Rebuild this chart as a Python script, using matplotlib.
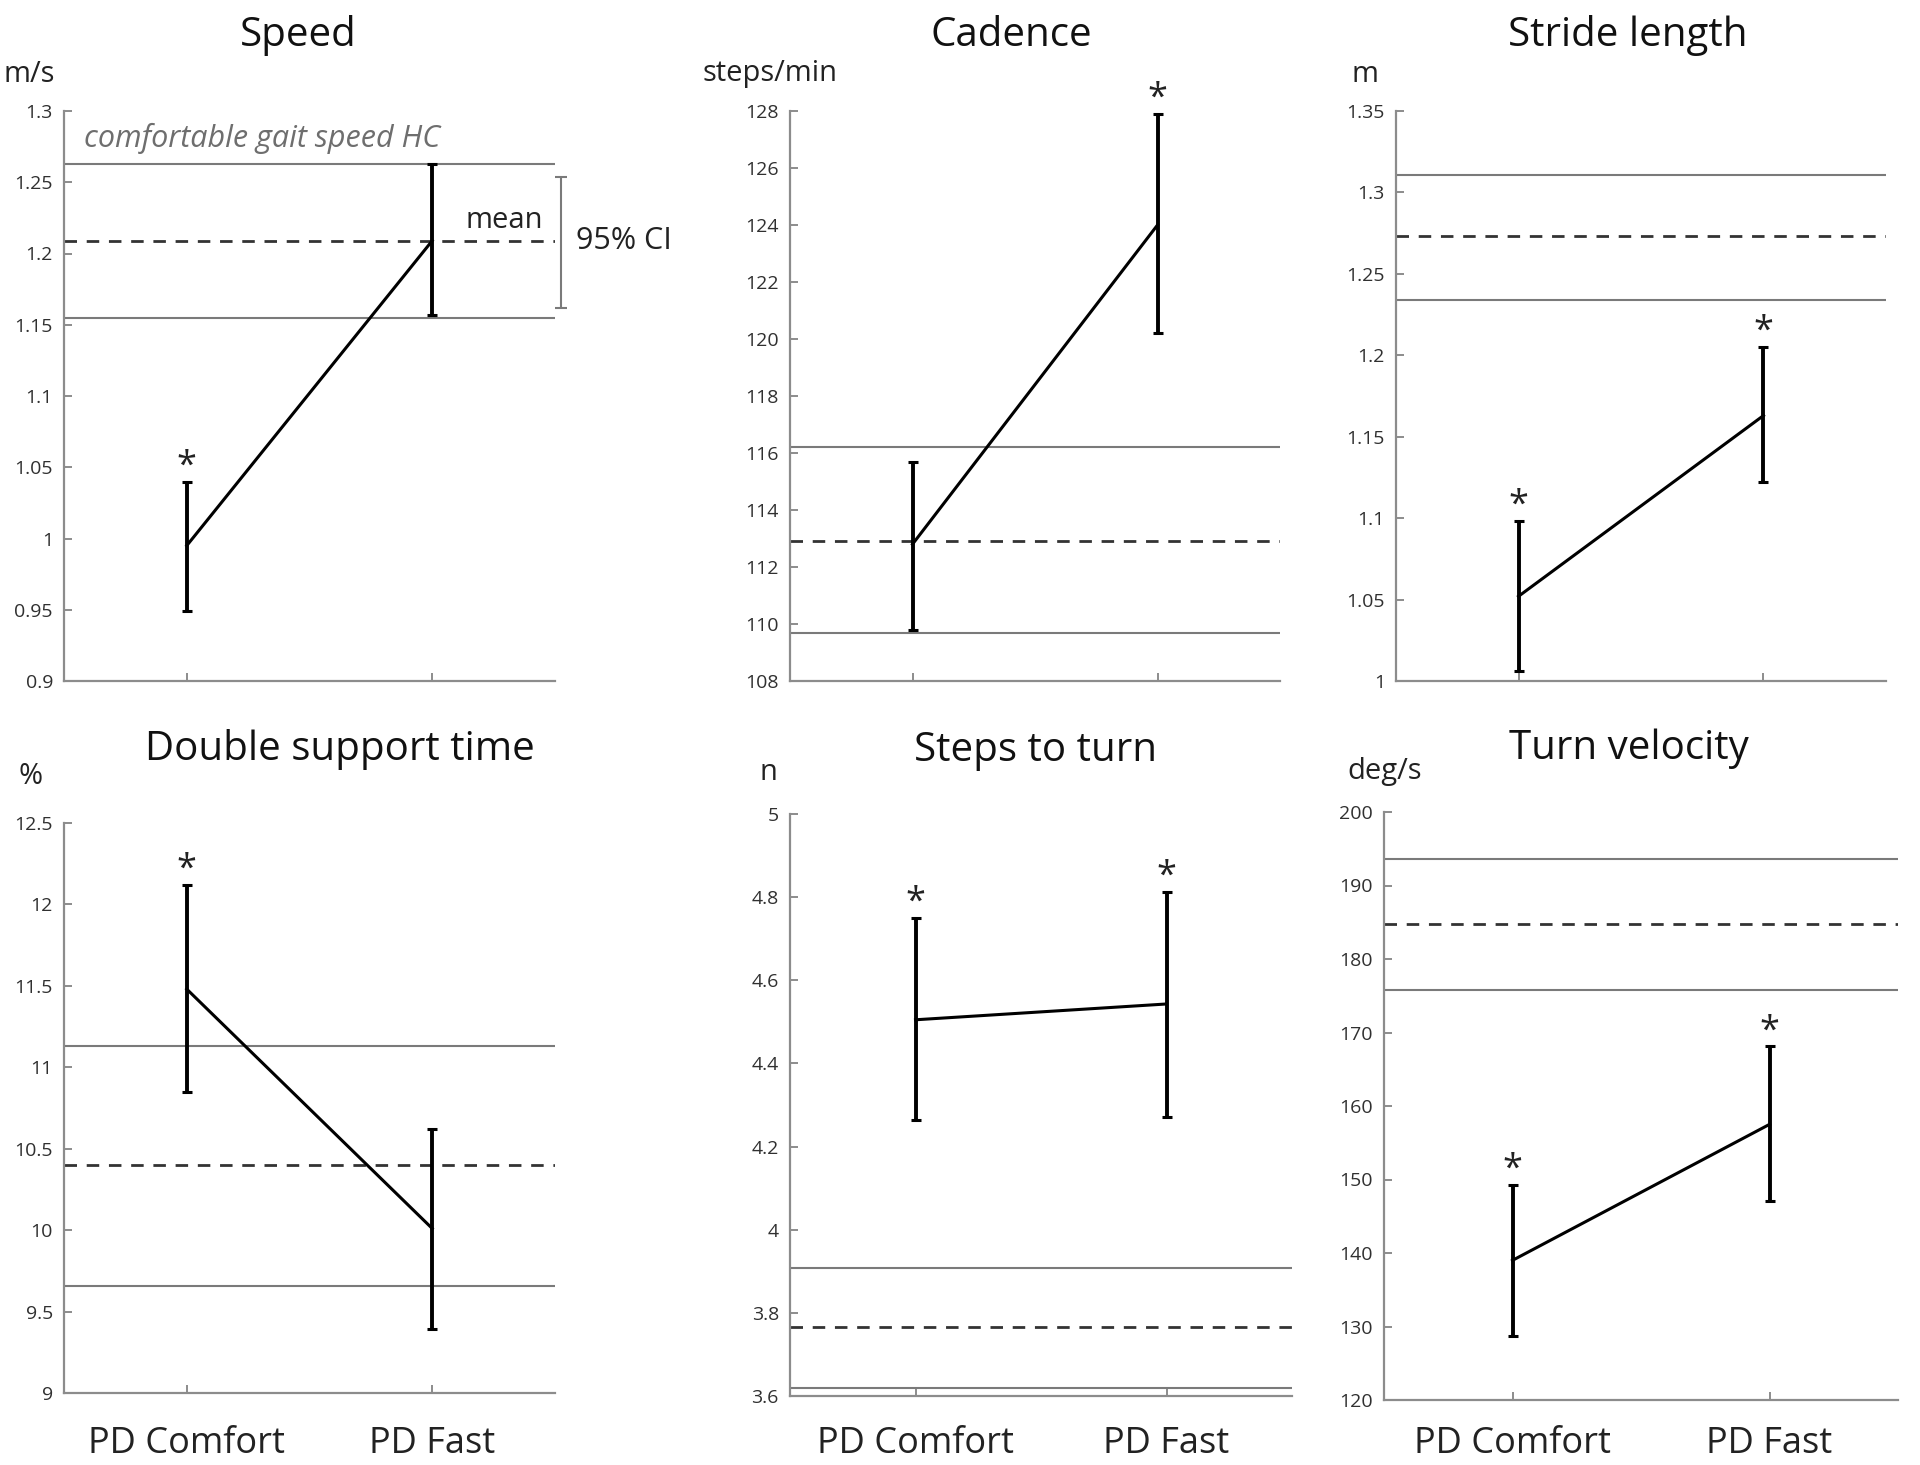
import matplotlib.pyplot as plt
import numpy as np

plt.rcParams['font.family'] = ['Open Sans', 'DejaVu Sans']

conditions = ["PD Comfort", "PD Fast"]
x_pos = [1, 2]

# mean, lower / upper 95% CI for PD groups; HC band = lower CI, mean, upper CI
speed_mean = [0.995, 1.209]
speed_lo = [0.949, 1.157]
speed_hi = [1.040, 1.263]
speed_hc = [1.155, 1.209, 1.263]
speed_star = [True, False]
speed_ticks = [0.9, 0.95, 1.0, 1.05, 1.1, 1.15, 1.2, 1.25, 1.3]

cad_mean = [112.8, 124.0]
cad_lo = [109.8, 120.2]
cad_hi = [115.7, 127.9]
cad_hc = [109.7, 112.9, 116.2]
cad_star = [False, True]
cad_ticks = [108, 110, 112, 114, 116, 118, 120, 122, 124, 126, 128]

stride_mean = [1.052, 1.163]
stride_lo = [1.006, 1.122]
stride_hi = [1.098, 1.205]
stride_hc = [1.234, 1.273, 1.311]
stride_star = [True, True]
stride_ticks = [1.0, 1.05, 1.1, 1.15, 1.2, 1.25, 1.3, 1.35]

dst_mean = [11.48, 10.01]
dst_lo = [10.85, 9.39]
dst_hi = [12.12, 10.62]
dst_hc = [9.66, 10.40, 11.13]
dst_star = [True, False]
dst_ticks = [9, 9.5, 10, 10.5, 11, 11.5, 12, 12.5]

stt_mean = [4.505, 4.543]
stt_lo = [4.265, 4.272]
stt_hi = [4.750, 4.812]
stt_hc = [3.62, 3.765, 3.908]
stt_star = [True, True]
stt_ticks = [3.6, 3.8, 4.0, 4.2, 4.4, 4.6, 4.8, 5.0]

tv_mean = [139.0, 157.5]
tv_lo = [128.7, 147.1]
tv_hi = [149.3, 168.1]
tv_hc = [175.8, 184.8, 193.6]
tv_star = [True, True]
tv_ticks = [120, 130, 140, 150, 160, 170, 180, 190, 200]

titles = ["Speed", "Cadence", "Stride length",
          "Double support time", "Steps to turn", "Turn velocity"]
units = ["m/s", "steps/min", "m", "%", "n", "deg/s"]

# annotation of the speed panel
ci_bracket = [1.162, 1.2535]

panels = [
    (speed_mean, speed_lo, speed_hi, speed_hc, speed_star, speed_ticks),
    (cad_mean, cad_lo, cad_hi, cad_hc, cad_star, cad_ticks),
    (stride_mean, stride_lo, stride_hi, stride_hc, stride_star, stride_ticks),
    (dst_mean, dst_lo, dst_hi, dst_hc, dst_star, dst_ticks),
    (stt_mean, stt_lo, stt_hi, stt_hc, stt_star, stt_ticks),
    (tv_mean, tv_lo, tv_hi, tv_hc, tv_star, tv_ticks),
]

W, H = 1920, 1465
# axes boxes in pixels: left, top, right, bottom
boxes = [
    (64, 111, 555, 681),
    (790, 111, 1280, 681),
    (1396, 111, 1886, 681),
    (64, 823, 555, 1393),
    (790, 814, 1292, 1396),
    (1384, 812, 1898, 1400),
]
title_pos = [(298, 36), (1011, 36), (1628, 36), (340, 749), (1035, 751), (1629, 749)]
unit_pos = [(4, 74), (702, 74), (1351, 74), (18, 777), (759, 773), (1347, 771)]

SPINE = '#8c8c8c'
TICKC = '#303030'

fig = plt.figure(figsize=(W / 100, H / 100), dpi=100)

def fmt(v):
    return f"{v:g}"

for i, (mean, lo, hi, hc, star, ticks) in enumerate(panels):
    l, t, r, b = boxes[i]
    ax = fig.add_axes([l / W, 1 - b / H, (r - l) / W, (b - t) / H])

    ax.axhline(hc[0], color='#7a7a7a', lw=1.5)
    ax.axhline(hc[2], color='#7a7a7a', lw=1.5)
    ax.axhline(hc[1], color='#333333', lw=2.0, dashes=(4.5, 3.5))

    mean = np.array(mean)
    yerr = [mean - np.array(lo), np.array(hi) - mean]
    ax.errorbar(x_pos, mean, yerr=yerr, color='black', lw=2.2,
                elinewidth=2.8, capsize=3.5, capthick=2.2)

    for x, h, s in zip(x_pos, hi, star):
        if s:
            ax.annotate('*', (x, h), xytext=(0, -2), textcoords='offset points',
                        ha='center', va='bottom', fontsize=26, color='#222222')

    ax.set_xlim(0.5, 2.5)
    ax.set_ylim(ticks[0], ticks[-1])
    ax.set_yticks(ticks)
    ax.set_yticklabels([fmt(v) for v in ticks])
    ax.set_xticks(x_pos)
    if i >= 3:
        ax.set_xticklabels(conditions, fontsize=26, color='#222222')
    else:
        ax.set_xticklabels([])

    for side in ['top', 'right']:
        ax.spines[side].set_visible(False)
    for side in ['left', 'bottom']:
        ax.spines[side].set_color(SPINE)
        ax.spines[side].set_linewidth(1.6)
    ax.tick_params(axis='both', direction='in', length=6, width=1.4,
                   color=SPINE)
    ax.tick_params(axis='y', labelsize=14, labelcolor=TICKC, pad=8)
    # keep the category labels of the bottom row on one line
    ax.tick_params(axis='x', pad=24 - (b - 1393) / 1.39)

    fig.text(title_pos[i][0] / W, 1 - title_pos[i][1] / H, titles[i],
             ha='center', va='center', fontsize=29, color='#111111')
    fig.text(unit_pos[i][0] / W, 1 - unit_pos[i][1] / H, units[i],
             ha='left', va='center', fontsize=21, color='#222222')

    if i == 0:
        ax.text(0.58, 1.281, "comfortable gait speed HC", style='italic',
                fontsize=22, color='#6e6e6e', ha='left', va='center')
        ax.text(2.45, hc[1] + 0.004, "mean", fontsize=21, color='#222222',
                ha='right', va='bottom')
        mid = (ci_bracket[0] + ci_bracket[1]) / 2
        half = (ci_bracket[1] - ci_bracket[0]) / 2
        eb = ax.errorbar([2.525], [mid], yerr=[[half], [half]], fmt='none',
                         ecolor='#7a7a7a', elinewidth=1.5, capsize=4, capthick=1.5)
        for art in eb.lines[1] + eb.lines[2]:
            art.set_clip_on(False)
        ax.text(2.585, hc[1], "95% CI", fontsize=22, color='#222222',
                ha='left', va='center', clip_on=False)

fig.savefig("out.png", dpi=100)
